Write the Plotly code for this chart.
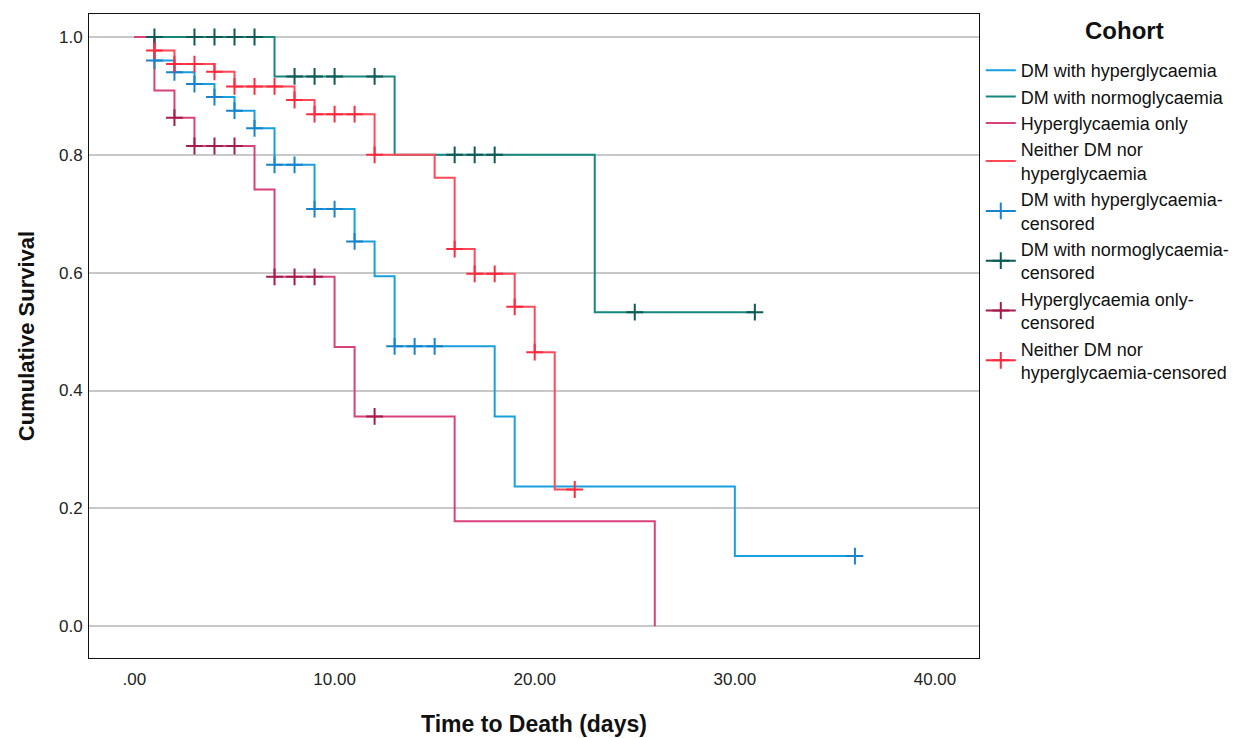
import plotly.graph_objects as go

# ---- data ----
cohorts = ["DM with hyperglycaemia", "DM with normoglycaemia",
           "Hyperglycaemia only", "Neither DM nor<br>hyperglycaemia"]
censor_names = ["DM with hyperglycaemia-<br>censored", "DM with normoglycaemia-<br>censored",
                "Hyperglycaemia only-<br>censored", "Neither DM nor<br>hyperglycaemia-censored"]
legend_title = "Cohort"

# step (Kaplan-Meier) curves: event times and survival after each step
dm_hyper_t = [0, 1, 2, 3, 4, 5, 6, 7, 9, 11, 12, 13, 18, 19, 30, 36]
dm_hyper_s = [1.0, 0.96, 0.94, 0.92, 0.898, 0.875, 0.845, 0.783, 0.708, 0.653, 0.594,
              0.475, 0.356, 0.237, 0.119, 0.119]
dm_normo_t = [0, 7, 13, 23, 31]
dm_normo_s = [1.0, 0.933, 0.8, 0.533, 0.533]
hyper_only_t = [0, 1, 2, 3, 6, 7, 10, 11, 16, 26]
hyper_only_s = [1.0, 0.909, 0.863, 0.815, 0.741, 0.593, 0.474, 0.356, 0.178, 0.0]
neither_t = [0, 1, 2, 4, 5, 8, 9, 12, 15, 16, 17, 19, 20, 21, 22]
neither_s = [1.0, 0.977, 0.954, 0.941, 0.916, 0.893, 0.869, 0.8, 0.761, 0.64, 0.598,
             0.542, 0.465, 0.232, 0.232]

# censored observations
dm_hyper_ct = [1, 2, 3, 4, 5, 6, 7, 8, 9, 10, 11, 13, 14, 15, 36]
dm_hyper_cs = [0.96, 0.94, 0.92, 0.898, 0.875, 0.845, 0.783, 0.783, 0.708, 0.708, 0.653,
               0.475, 0.475, 0.475, 0.119]
dm_normo_ct = [1, 3, 4, 5, 6, 8, 9, 10, 12, 16, 17, 18, 25, 31]
dm_normo_cs = [1.0, 1.0, 1.0, 1.0, 1.0, 0.933, 0.933, 0.933, 0.933, 0.8, 0.8, 0.8, 0.533, 0.533]
hyper_only_ct = [2, 3, 4, 5, 7, 8, 9, 12]
hyper_only_cs = [0.863, 0.815, 0.815, 0.815, 0.593, 0.593, 0.593, 0.356]
neither_ct = [1, 2, 3, 4, 5, 6, 7, 8, 9, 10, 11, 12, 16, 17, 18, 19, 20, 22]
neither_cs = [0.977, 0.954, 0.954, 0.941, 0.916, 0.916, 0.916, 0.893, 0.869, 0.869, 0.869,
              0.8, 0.64, 0.598, 0.598, 0.542, 0.465, 0.232]

x_tickvals = [0, 10, 20, 30, 40]
x_ticktext = [".00", "10.00", "20.00", "30.00", "40.00"]
y_tickvals = [0.0, 0.2, 0.4, 0.6, 0.8, 1.0]

# ---- styles ----
step_colors = ["#189fde", "#15877f", "#d8417a", "#ff4858"]
cens_colors = ["#1584cc", "#0b5a53", "#a61a4c", "#ff2a3e"]
FONT = "Liberation Sans, Arial, sans-serif"
draw_order = [0, 1, 3, 2]   # magenta drawn on top, as in the reference

steps = [(dm_hyper_t, dm_hyper_s), (dm_normo_t, dm_normo_s),
         (hyper_only_t, hyper_only_s), (neither_t, neither_s)]
cens = [(dm_hyper_ct, dm_hyper_cs), (dm_normo_ct, dm_normo_cs),
        (hyper_only_ct, hyper_only_cs), (neither_ct, neither_cs)]

fig = go.Figure()
for i in draw_order:
    t, s = steps[i]
    fig.add_trace(go.Scatter(x=t, y=s, mode="lines", line_shape="hv",
                             line=dict(color=step_colors[i], width=2),
                             name=cohorts[i], legendrank=i + 1, hoverinfo="x+y"))
for i in draw_order:
    t, s = cens[i]
    xs, ys = [], []
    for a, b in zip(t, s):
        xs += [a, None]
        ys += [b, None]
    fig.add_trace(go.Scatter(x=xs, y=ys, mode="lines+markers", connectgaps=False,
                             line=dict(color=cens_colors[i], width=2),
                             marker=dict(symbol="cross-thin", size=12,
                                         line=dict(color=cens_colors[i], width=2)),
                             name=censor_names[i], legendrank=i + 5, hoverinfo="x+y"))

# page body has an 8px margin, so the figure is 8px smaller than the window
fig.update_layout(
    width=1250, height=730,
    margin=dict(l=81, r=279, t=6, b=80, autoexpand=False),
    paper_bgcolor="white", plot_bgcolor="white",
    font=dict(family=FONT, color="#222222"),
    showlegend=True,
    legend=dict(
        x=1.002, xanchor="left", y=0.941, yanchor="top",
        font=dict(family=FONT, size=18, color="#111111"),
        bgcolor="rgba(0,0,0,0)", borderwidth=0,
    ),
    annotations=[dict(
        text="<b>" + legend_title + "</b>", xref="paper", yref="paper",
        x=1.164, y=0.975, xanchor="center", yanchor="middle", showarrow=False,
        font=dict(family=FONT, size=24, color="#111111"),
    )],
    xaxis=dict(
        range=[-2.27, 42.2], tickvals=x_tickvals, ticktext=x_ticktext,
        showgrid=False, zeroline=False, automargin=False,
        showline=True, mirror=True, linecolor="#111111", linewidth=1,
        ticks="", ticklabelstandoff=6,
        tickfont=dict(family=FONT, size=17, color="#222222"),
        title=dict(text="<b>Time to Death (days)</b>", standoff=27,
                   font=dict(family=FONT, size=23, color="#111111")),
    ),
    yaxis=dict(
        range=[-0.054, 1.039], tickvals=y_tickvals, tickformat=".1f",
        showgrid=True, gridcolor="#c8c8c8", gridwidth=2, zeroline=False, automargin=False,
        showline=True, mirror=True, linecolor="#111111", linewidth=1,
        ticks="", ticklabelstandoff=2,
        tickfont=dict(family=FONT, size=17, color="#222222"),
        title=dict(text="<b>Cumulative Survival</b>", standoff=18,
                   font=dict(family=FONT, size=22, color="#111111")),
    ),
)

fig.write_html("out.html")
